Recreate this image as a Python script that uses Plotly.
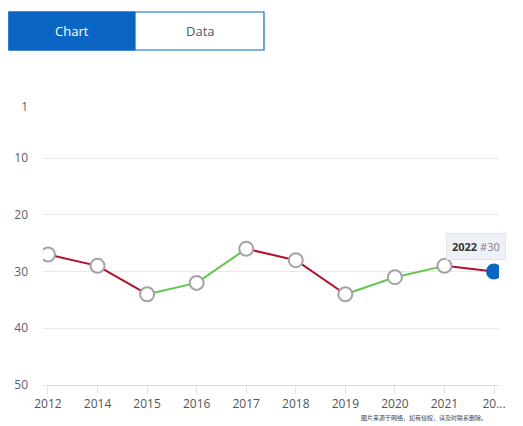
import plotly.graph_objects as go

years = ["2012", "2014", "2015", "2016", "2017", "2018", "2019", "2020", "2021", "2022"]
year_labels = ["2012", "2014", "2015", "2016", "2017", "2018", "2019", "2020", "2021", "20..."]
ranks = [27, 29, 34, 32, 26, 28, 34, 31, 29, 30]
rank_ticks = [1, 10, 20, 30, 40, 50]

RED = "#b3102b"
GREEN = "#62c64f"
BLUE = "#0a66c2"

fig = go.Figure()

# one segment per pair of years, red when the rank gets worse, green when it improves
for i in range(len(years) - 1):
    color = RED if ranks[i + 1] > ranks[i] else GREEN
    fig.add_trace(go.Scatter(
        x=[i, i + 1], y=[ranks[i], ranks[i + 1]],
        mode="lines", line=dict(color=color, width=2),
        hoverinfo="skip", showlegend=False,
    ))

marker_fill = ["white"] * (len(years) - 1) + [BLUE]
marker_line = ["#a3a3a3"] * (len(years) - 1) + [BLUE]
fig.add_trace(go.Scatter(
    x=list(range(len(years))), y=ranks, mode="markers",
    marker=dict(size=14, color=marker_fill, line=dict(color=marker_line, width=2)),
    text=years, hovertemplate="%{text} #%{y}<extra></extra>",
    showlegend=False,
))

# tooltip for the last point
fig.add_annotation(
    x=len(years) - 1, y=ranks[-1], xref="x", yref="y",
    text="<b>" + years[-1] + "</b> <span style='color:#808080'>#" + str(ranks[-1]) + "</span>",
    showarrow=False, xshift=-18, yshift=25,
    bgcolor="#eef1f8", bordercolor="#dfe3ea", borderwidth=1, borderpad=5,
    font=dict(size=11, color="#333333", family="Open Sans"),
)

# page has an 8px body margin, so figure coords = screen coords - 8
pw, ph = 456.0, 278.0
def px(x):
    return (x - 43) / pw
def py(y):
    return (385 - y) / ph

fig.add_shape(type="rect", xref="paper", yref="paper",
              x0=px(9), x1=px(264), y0=py(50), y1=py(12),
              line=dict(color=BLUE, width=1.2), fillcolor="white", layer="below")
fig.add_shape(type="rect", xref="paper", yref="paper",
              x0=px(9), x1=px(135), y0=py(50), y1=py(12),
              line=dict(color=BLUE, width=1.2), fillcolor=BLUE, layer="below")
fig.add_annotation(xref="paper", yref="paper", x=px(72), y=py(31), text="Chart",
                   xanchor="center", yanchor="middle", showarrow=False,
                   font=dict(size=13, color="white", family="Open Sans"))
fig.add_annotation(xref="paper", yref="paper", x=px(200), y=py(31), text="Data",
                   xanchor="center", yanchor="middle", showarrow=False,
                   font=dict(size=13, color="#555566", family="Open Sans"))

fig.add_annotation(xref="paper", yref="paper", x=px(424), y=py(417),
                   text="图片来源于网络，如有侵权，请及时联系删除。",
                   xanchor="center", yanchor="middle", showarrow=False,
                   font=dict(size=6, color="#444444", family="Noto Sans CJK SC"))

fig.update_layout(
    width=523, height=426,
    margin=dict(l=35, r=32, t=99, b=49),
    plot_bgcolor="white", paper_bgcolor="white",
    font=dict(family="Open Sans", size=12, color="#555555"),
    xaxis=dict(
        range=[-0.1, len(years) - 0.9],
        tickvals=list(range(len(years))), ticktext=year_labels,
        showgrid=False, zeroline=False,
        showline=True, linecolor="#dddddd", linewidth=1,
        ticks="outside", ticklen=8, tickcolor="#e2e2e2",
        tickfont=dict(size=12, color="#555555"),
        automargin=False, fixedrange=True,
    ),
    yaxis=dict(
        range=[50, 1], tickvals=rank_ticks,
        showgrid=True, gridcolor="#e9e9e9", gridwidth=1,
        zeroline=False, showline=False,
        ticklabelstandoff=14,
        tickfont=dict(size=12, color="#5a6070"),
        automargin=False, fixedrange=True,
    ),
)

fig.write_html("out.html")
